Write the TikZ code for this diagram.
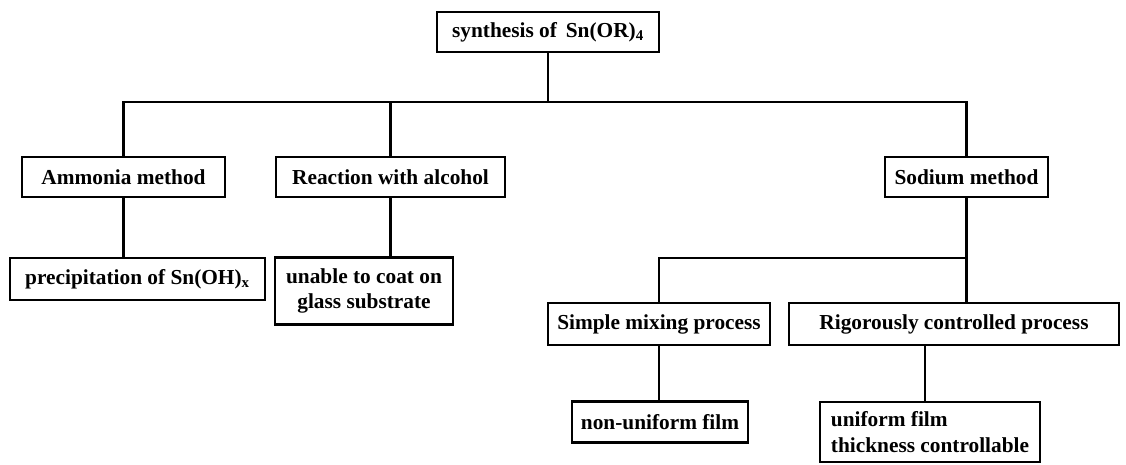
\documentclass[tikz,border=0pt]{standalone}
\usepackage{fontspec}
\setmainfont{Liberation Serif}
\begin{document}
\begin{tikzpicture}[x=0.75pt,y=-0.75pt,
  box/.style={draw=black,line width=1.9pt,fill=white,inner sep=0pt,font=\bfseries\fontsize{16}{18.5}\selectfont,align=center},
  conn/.style={draw=black,line width=1.6pt}]
\useasboundingbox (0,0) rectangle (1126,464);
% boxes
\node[box,minimum width=222*0.75pt,minimum height=40*0.75pt] (top) at (548,32) {synthesis of\, Sn(OR)\textsubscript{4}};
\node[box,minimum width=203*0.75pt,minimum height=40*0.75pt] (amm) at (123.5,177) {Ammonia method};
\node[box,minimum width=229*0.75pt,minimum height=40*0.75pt] (rea) at (390.5,177) {Reaction with alcohol};
\node[box,minimum width=163*0.75pt,minimum height=40*0.75pt] (sod) at (966.5,177) {Sodium method};
\node[box,minimum width=255*0.75pt,minimum height=42*0.75pt] (pre) at (137.5,279) {precipitation of Sn(OH)\textsubscript{x}};
\node[box,minimum width=178*0.75pt,minimum height=67*0.75pt] (una) at (364,291) {unable to coat on\\glass substrate};
\node[box,minimum width=222*0.75pt,minimum height=42*0.75pt] (sim) at (659,324) {Simple mixing process};
\node[box,minimum width=330*0.75pt,minimum height=42*0.75pt] (rig) at (954,324) {Rigorously controlled process};
\node[box,minimum width=176*0.75pt,minimum height=41*0.75pt] (non) at (660,422) {non-uniform film};
\node[box,minimum width=220*0.75pt,minimum height=60*0.75pt,align=left,font=\bfseries\fontsize{16}{19.5}\selectfont] (uni) at (930,432) {uniform film\\thickness controllable};
% bus coordinates
\coordinate (b1) at (548,102);
\coordinate (b2) at (966.5,258);
\coordinate (u1) at (925,345);
\draw[conn] (top.south) -- (b1);
\draw[conn] (amm.north) |- (b1) -| (sod.north);
\draw[conn] (rea.north) -- (rea.north |- b1);
\draw[conn] (amm.south) -- (amm.south |- pre.north);
\draw[conn] (rea.south) -- (rea.south |- una.north);
\draw[conn] (sod.south) -- (b2);
\draw[conn] (sim.north) |- (b2) -- (b2 |- rig.north);
\draw[conn] (sim.south) -- (sim.south |- non.north);
\draw[conn] (u1) -- (u1 |- uni.north);
\end{tikzpicture}
\end{document}
